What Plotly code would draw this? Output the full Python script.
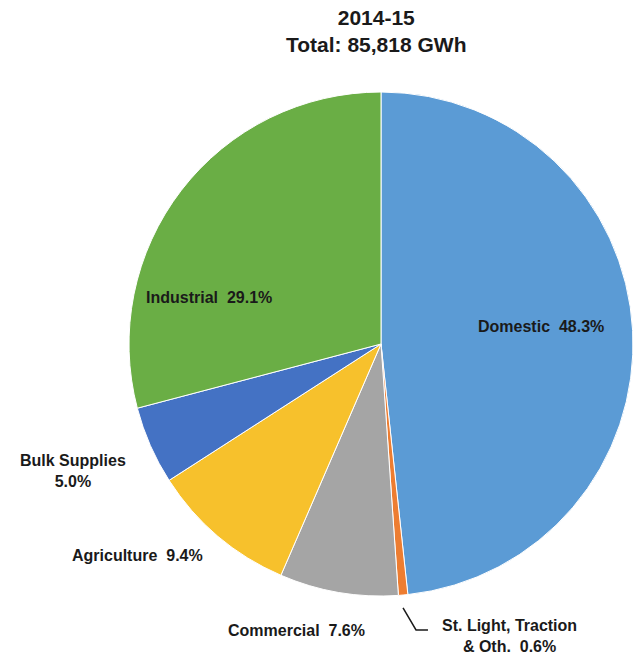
import plotly.graph_objects as go

W, H = 633, 657

categories = ["Domestic", "St. Light, Traction & Oth.", "Commercial", "Agriculture", "Bulk Supplies", "Industrial"]
shares = [48.3, 0.6, 7.6, 9.4, 5.0, 29.1]
colors = ["#5b9bd5", "#ed7d31", "#a5a5a5", "#f7c12c", "#4472c4", "#6aae45"]
title_lines = ["2014-15", "Total: 85,818 GWh"]

# label layout (pixel centre, text template)
label_layout = {
    "Domestic": (541, 327, "{name}  {v:.1f}%"),
    "Industrial": (209, 297, "{name}  {v:.1f}%"),
    "Bulk Supplies": (73, 471, "{name}<br>{v:.1f}%"),
    "Agriculture": (137, 555, "{name}  {v:.1f}%"),
    "Commercial": (296, 630, "{name}  {v:.1f}%"),
    "St. Light, Traction & Oth.": (509, 636, "St. Light, Traction<br>& Oth.  {v:.1f}%"),
}

cx, cy, r = 381, 344, 252

fig = go.Figure(go.Pie(
    labels=categories,
    values=shares,
    sort=False,
    direction="clockwise",
    rotation=0,
    marker=dict(colors=colors, line=dict(color="white", width=1)),
    textinfo="none",
    hoverinfo="label+percent",
    showlegend=False,
    domain=dict(x=[(cx - r) / W, (cx + r) / W], y=[1 - (cy + r) / H, 1 - (cy - r) / H]),
))

font = dict(family="Liberation Sans, Arial, sans-serif", size=16, color="#1a1a1a")
anns = []
for name, v in zip(categories, shares):
    px, py, tmpl = label_layout[name]
    anns.append(dict(
        x=px / W, y=1 - py / H, xref="paper", yref="paper",
        text="<b>" + tmpl.format(name=name, v=v) + "</b>",
        showarrow=False, align="center", font=font,
        xanchor="center", yanchor="middle",
    ))

anns.append(dict(
    x=376 / W, y=1 - 31 / H, xref="paper", yref="paper",
    text="<b>" + "<br>".join(title_lines) + "</b>",
    showarrow=False, align="center",
    font=dict(family="Liberation Sans, Arial, sans-serif", size=21, color="#1a1a1a"),
    xanchor="center", yanchor="middle",
))

fig.update_layout(
    width=W, height=H,
    margin=dict(l=0, r=0, t=0, b=0),
    paper_bgcolor="white", plot_bgcolor="white",
    annotations=anns,
    shapes=[dict(
        type="path", xref="paper", yref="paper",
        path="M {:.4f},{:.4f} L {:.4f},{:.4f} L {:.4f},{:.4f}".format(
            403 / W, 1 - 608 / H, 416 / W, 1 - 630 / H, 428 / W, 1 - 630 / H),
        line=dict(color="#1a1a1a", width=1.5),
    )],
)

fig.write_html("out.html", config={"displayModeBar": False},
               post_script="document.body.style.margin='0';document.body.style.overflow='hidden';")
